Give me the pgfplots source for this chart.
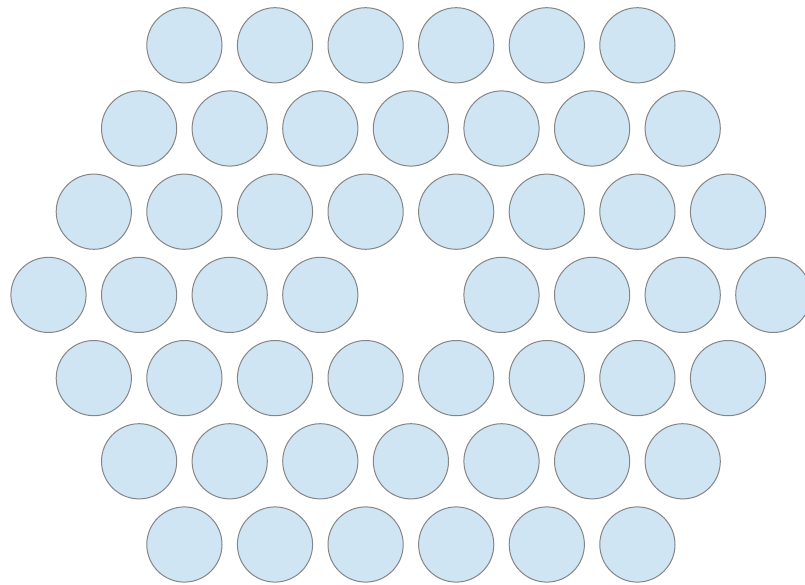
\documentclass[border=0pt]{standalone}
\usepackage{pgfplots}
\pgfplotsset{compat=1.18}
\usepackage{pgfplotstable}
\definecolor{cfill}{HTML}{CFE5F3}
\definecolor{cedge}{HTML}{858585}
\pgfplotstableread{
x y
184.4 538.7
275.0 538.7
365.6 538.7
456.2 538.7
546.8 538.7
637.4 538.7
139.1 455.5
229.7 455.5
320.3 455.5
410.9 455.5
501.5 455.5
592.1 455.5
682.7 455.5
93.8 372.3
184.4 372.3
275.0 372.3
365.6 372.3
456.2 372.3
546.8 372.3
637.4 372.3
728.0 372.3
48.5 289.1
139.1 289.1
229.7 289.1
320.3 289.1
501.5 289.1
592.1 289.1
682.7 289.1
773.3 289.1
93.8 205.9
184.4 205.9
275.0 205.9
365.6 205.9
456.2 205.9
546.8 205.9
637.4 205.9
728.0 205.9
139.1 122.7
229.7 122.7
320.3 122.7
410.9 122.7
501.5 122.7
592.1 122.7
682.7 122.7
184.4 39.5
275.0 39.5
365.6 39.5
456.2 39.5
546.8 39.5
637.4 39.5
}\circles
\begin{document}
\begin{tikzpicture}
\useasboundingbox (0,0) rectangle (805pt,584pt);
\clip (0,0) rectangle (805pt,584pt);
\begin{axis}[
  at={(0,0)}, anchor=south west,
  width=805pt, height=584pt, scale only axis,
  xmin=0, xmax=805, ymin=0, ymax=584,
  hide axis, clip marker paths=true,
]
\addplot[only marks, mark=*, mark size=37.6pt,
  mark options={fill=cfill, draw=cedge, line width=1pt}] table {\circles};
\end{axis}
\end{tikzpicture}
\end{document}
